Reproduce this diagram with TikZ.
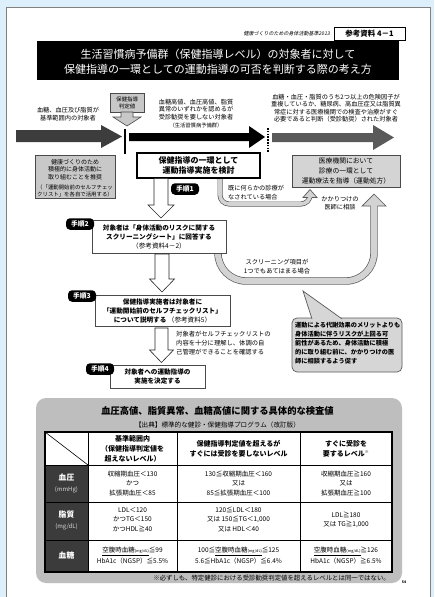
\documentclass[tikz,border=0pt]{standalone}
\usepackage{fontspec}
\setmainfont{Noto Sans CJK JP}
\newfontfamily\jpslant{Noto Sans CJK JP}[FakeSlant=0.2]
\newcommand{\fz}[2]{\fontsize{#1}{#2}\selectfont}
\definecolor{bgblue}{HTML}{DDEFFA}
\definecolor{pagebord}{HTML}{808080}
\definecolor{darkarr}{HTML}{3D3D3D}
\definecolor{grayarr}{HTML}{5A5A5A}
\definecolor{boxline}{HTML}{4A4A4A}
\definecolor{boxgray}{HTML}{C8C8C8}
\definecolor{mboxgray}{HTML}{D4D4D4}
\definecolor{pipefill}{HTML}{D3D3D3}
\definecolor{pipeline}{HTML}{5A5A5A}
\definecolor{callfill}{HTML}{D6D6D6}
\definecolor{panelgray}{HTML}{BEBEBE}
\definecolor{tdark}{HTML}{3B3B3B}
\begin{document}
\begin{tikzpicture}[x=1pt,y=-1pt,
  every node/.style={inner sep=0pt, align=center},
  graybox/.style={draw=boxline, fill=boxgray, line width=0.6pt},
  whitebox/.style={draw=boxline, fill=white, line width=0.6pt},
  pill/.style={fill=black, text=white, rounded corners=4pt, minimum width=28pt, minimum height=11.5pt, font=\bfseries\fz{6.8}{7}},
  hollow/.style={draw=black!85, fill=white, line width=0.6pt, line join=miter},
  pipe/.style={draw=pipeline, double=pipefill, line width=0.7pt},
  headfill/.style={fill=pipefill, draw=pipeline, line width=0.7pt, line join=miter},
  cell/.style={font=\fz{6.5}{9.5}},
  hcell/.style={font=\bfseries\fz{7}{10}},
  ]
\useasboundingbox (0,0) rectangle (434,597);
% background and page
\fill[bgblue] (0,0) rectangle (434,597);
\fill[white] (6,7) rectangle (430,597);
\draw[pagebord, line width=1pt] (6,597) -- (6,7) -- (430,7) -- (430,597);

% header
\node[anchor=east, font=\jpslant\fz{5}{6}] (hdr) at (330,34) {健康づくりのための身体活動基準2013};
\node[draw, line width=0.8pt, minimum width=71pt, minimum height=13pt, font=\bfseries\fz{7.5}{8}] (ref) at (369.5,33.5) {参考資料 4－1};
\node[fill=black, minimum width=362pt, minimum height=39pt] (titlebox) at (218,60.5) {};
\node[text=white, font=\fz{11}{15}] (title) at (218,62) {生活習慣病予備群（保健指導レベル）の対象者に対して\\保健指導の一環としての運動指導の可否を判断する際の考え方};

% top texts
\node[font=\fz{6.2}{8}] (ltxt) at (68,114) {血糖、血圧及び脂質が\\基準範囲内の対象者};
\node[font=\fz{6.2}{7.5}] (mtxt) at (196,109.5) {血糖高値、血圧高値、脂質\\異常のいずれかを認めるが\\受診勧奨を要しない対象者};
\node[font=\fz{5.3}{6}] (mtxt2) at (196,125) {（生活習慣病予備群）};
\node[font=\fz{6.2}{7.5}] (rtxt) at (336,108.25) {血糖・血圧・脂質のうち2つ以上の危険因子が\\重複しているか、糖尿病、高血圧症又は脂質異\\常症に対する医療機関での検査や治療がすぐ\\必要であると判断（受診勧奨）された対象者};

% judge box with small arrow
\node[graybox, minimum width=34pt, minimum height=19pt, font=\fz{5.5}{7}] (judge) at (127,102.5) {保健指導\\判定値};
\path[fill=boxgray, draw=boxline, line width=0.6pt] (121,112) -- (133,112) -- (133,117) -- (141,117) -- (127,126) -- (113,117) -- (121,117) -- cycle;

% main arrows
\fill[darkarr] (16,130) -- (101,130) -- (101,125) -- (122,136.5) -- (101,148) -- (101,142) -- (16,142) -- cycle;
\fill[black] (129,133) -- (249,133) -- (249,126) -- (265,137) -- (249,148) -- (249,141) -- (129,141) -- cycle;
\fill[grayarr] (272,133) -- (373,133) -- (373,125) -- (394,137.5) -- (373,150) -- (373,142) -- (272,142) -- cycle;
\draw[black, line width=2.2pt] (125,129) -- (125,154);
\draw[black, line width=2.2pt, dash pattern=on 1.6pt off 1.2pt] (268,128) -- (268,153);

% left gray box
\node[graybox, minimum width=80pt, minimum height=43pt] (lbox) at (75,176.5) {};
\node[font=\fz{6}{7.5}] (lboxt1) at (75,169.5) {健康づくりのため\\積極的に身体活動に\\取り組むことを推奨};
\node[font=\fz{5.4}{7}] (lboxt2) at (75,190.5) {（「運動開始前のセルフチェッ\\クリスト」を各自で活用する）};

% pipes
\draw[pipe, double distance=3.6pt, rounded corners=9pt] (220,176) -- (220,204) -- (310,204) -- (310,195);
\path[headfill] (307.85,197.5) -- (303,197.5) -- (310,189.5) -- (317,197.5) -- (312.15,197.5);
\draw[pipe, double distance=6pt, rounded corners=28pt] (218,248) -- (218,281) -- (374,281) -- (374,203);
\path[headfill] (370.65,206) -- (362,206) -- (374,194) -- (386,206) -- (377.35,206);

% consider box
\node[draw=black, fill=white, line width=1.2pt, minimum width=123pt, minimum height=25pt, font=\bfseries\fz{8}{10}] (kbox) at (198.5,165.5) {保健指導の一環として\\運動指導実施を検討};
\node[pill] (step1) at (185,189) {手順1};

\node[anchor=west, align=left, font=\fz{6.2}{8.5}] (already) at (228,192.5) {既に何らかの診療が\\なされている場合};
\node[graybox, fill=mboxgray, minimum width=108pt, minimum height=32pt, font=\fz{6.8}{10}] (mbox) at (346,171) {医療機関において\\診療の一環として\\運動療法を指導（運動処方）};
\node[font=\fz{6.2}{8}] (consult) at (340,203.5) {かかりつけの\\医師に相談};

% step 2
\path[hollow] (154,178.6) -- (168,178.6) -- (168,205) -- (174,205) -- (161,218) -- (148,205) -- (154,205) -- cycle;
\node[whitebox, minimum width=134pt, minimum height=33pt, font=\bfseries\fz{6.6}{9}] (s2box) at (159,236.5) {対象者は「身体活動のリスクに関する\\スクリーニングシート」に回答する\\{\mdseries（参考資料4－2）}};
\node[pill] (step2) at (80,224) {手順2};
\node[font=\fz{6.3}{9}] (screen) at (277,266.5) {スクリーニング項目が\\1つでもあてはまる場合};

% step 3
\path[hollow] (155,254) -- (169,254) -- (169,279) -- (174.5,279) -- (162,292) -- (149.5,279) -- (155,279) -- cycle;
\node[whitebox, minimum width=135pt, minimum height=31pt, font=\bfseries\fz{6.6}{9}] (s3box) at (162.5,310.5) {保健指導実施者は対象者に\\「運動開始前のセルフチェックリスト」\\について説明する {\mdseries（参考資料5）}};
\node[pill] (step3) at (82,296) {手順3};

% step 4
\path[hollow] (155,328) -- (168,328) -- (168,350) -- (173.5,350) -- (161.5,362.5) -- (149.5,350) -- (155,350) -- cycle;
\node[anchor=north west, align=left, font=\fz{6.3}{9}] (confirm) at (176,331) {対象者がセルフチェックリストの\\内容を十分に理解し、体調の自\\己管理ができることを確認する};
\node[whitebox, minimum width=95pt, minimum height=23pt, font=\bfseries\fz{6.6}{9.5}] (s4box) at (157.5,376.5) {対象者への運動指導の\\実施を決定する};
\node[pill] (step4) at (100,369) {手順4};

% callout
\node[draw=pipeline, fill=callfill, rounded corners=5pt, line width=0.7pt, minimum width=110pt, minimum height=54pt] (call) at (347,345) {};
\path[fill=callfill, draw=pipeline, line width=0.7pt, line join=miter] (312,318.9) -- (303,291) -- (342,318.9);
\node[anchor=north west, align=left, font=\bfseries\fz{6.2}{9.2}] (callt) at (295,321.5) {運動による代謝効果のメリットよりも\\\underline{身体活動に伴うリスクが上回る可}\\能性があるため、身体活動に積極\\的に取り組む前に、かかりつけの医\\師に相談するよう促す};

% bottom panel
\fill[panelgray, rounded corners=10pt] (36,398) rectangle (402,583);
\node[font=\bfseries\fz{9.3}{10}] (ptitle) at (217.5,410.5) {血圧高値、脂質異常、血糖高値に関する具体的な検査値};
\node[font=\fz{6.6}{7}] (psub) at (217.5,425) {【出典】標準的な健診・保健指導プログラム（改訂版）};

% table
\fill[white] (45,432) rectangle (392,572);
\fill[tdark] (45,465) rectangle (88,572);
\draw[line width=0.9pt] (45,465) -- (392,465) (45,502) -- (392,502) (45,540) -- (392,540)
  (88,432) -- (88,572) (177,432) -- (177,572) (300,432) -- (300,572);
\draw[line width=0.6pt] (45,432) -- (88,465);
\draw[line width=1.4pt] (45,432) rectangle (392,572);

\node[hcell] (h2) at (132.5,448.5) {基準範囲内\\（保健指導判定値を\\超えないレベル）};
\node[hcell] (h3) at (238.5,448.5) {保健指導判定値を超えるが\\すぐには受診を要しないレベル};
\node[hcell] (h4) at (346,448.5) {すぐに受診を\\要するレベル\textsuperscript{\fz{4}{4}※}};

\node[text=white, font=\bfseries\fz{7.8}{9}] (r1) at (66.5,478) {血圧};
\node[text=white!85!black, font=\fz{6}{7}] (r1u) at (66.5,490) {(mmHg)};
\node[text=white, font=\bfseries\fz{7.8}{9}] (r2) at (66.5,514.5) {脂質};
\node[text=white!85!black, font=\fz{6}{7}] (r2u) at (66.5,526.5) {(mg/dL)};
\node[text=white, font=\bfseries\fz{7.8}{9}] (r3) at (66.5,556) {血糖};

\node[cell] (c12) at (132.5,483.5) {収縮期血圧＜130\\かつ\\拡張期血圧＜85};
\node[cell] (c13) at (238.5,483.5) {130≦収縮期血圧＜160\\又は\\85≦拡張期血圧＜100};
\node[cell] (c14) at (346,483.5) {収縮期血圧≧160\\又は\\拡張期血圧≧100};

\node[cell] (c22) at (132.5,519.5) {LDL＜120\\かつTG＜150\\かつHDL≧40};
\node[cell] (c23) at (238.5,519.5) {120≦LDL＜180\\又は 150≦TG＜1,000\\又は HDL＜40};
\node[cell] (c24) at (346,520) {LDL≧180\\又は TG≧1,000};

\node[cell, font=\fz{6.5}{11}] (c32) at (132.5,555.5) {\underline{空腹時血糖{\fz{3.8}{4}(mg/dL)}}≦99\\HbA1c（NGSP）≦5.5\%};
\node[cell, font=\fz{6.5}{11}] (c33) at (238.5,555.5) {100≦\underline{空腹時血糖{\fz{3.8}{4}(mg/dL)}}≦125\\5.6≦HbA1c（NGSP）≦6.4\%};
\node[cell, font=\fz{6.5}{11}] (c34) at (346,555.5) {\underline{空腹時血糖{\fz{3.8}{4}(mg/dL)}}≧126\\HbA1c（NGSP）≧6.5\%};

\node[anchor=east, font=\fz{6.4}{7}] (foot) at (390,578) {※必ずしも、特定健診における受診勧奨判定値を超えるレベルとは同一ではない。};
\node[font=\bfseries\fz{3.5}{4}] (pno) at (404,582) {54};
\end{tikzpicture}
\end{document}
